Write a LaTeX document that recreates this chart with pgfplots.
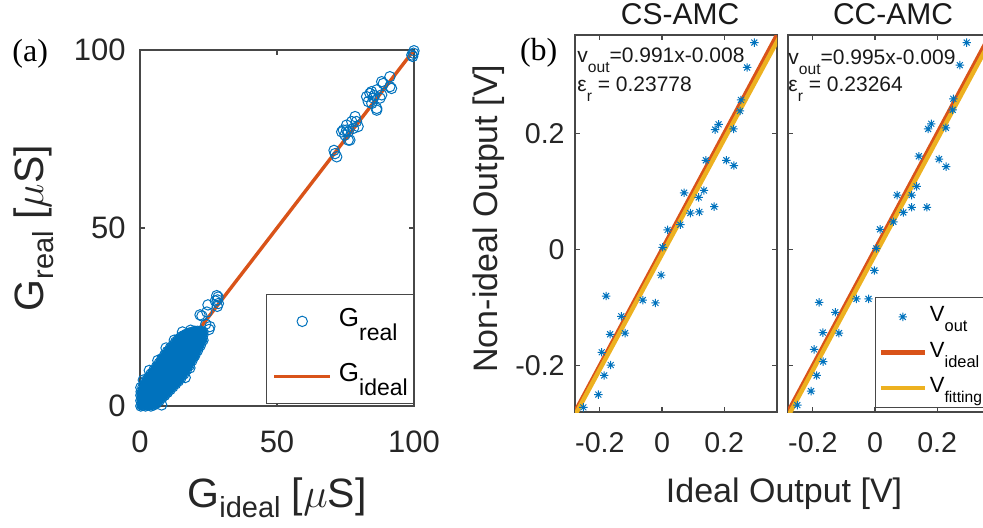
\documentclass[border=0pt]{standalone}
\usepackage{pgfplots}
\usepackage{pgfplotstable}
\pgfplotsset{compat=1.18}
\usepackage{fontspec}
\setmainfont{Liberation Sans}
\newfontfamily\timesfont{Liberation Serif}
\definecolor{mblue}{rgb}{0,0.447,0.741}
\definecolor{morange}{rgb}{0.85,0.325,0.098}
\definecolor{myellow}{rgb}{0.929,0.694,0.125}
\newcommand{\fs}[1]{\fontsize{#1}{#1}\selectfont}
\newcommand{\sbx}[3]{\raisebox{-#1}{\fs{#2}#3}}
\pgfdeclareplotmark{mstar}{%
  \pgfpathmoveto{\pgfqpoint{-\pgfplotmarksize}{0pt}}%
  \pgfpathlineto{\pgfqpoint{\pgfplotmarksize}{0pt}}%
  \pgfpathmoveto{\pgfqpoint{0pt}{-\pgfplotmarksize}}%
  \pgfpathlineto{\pgfqpoint{0pt}{\pgfplotmarksize}}%
  \pgfpathmoveto{\pgfqpoint{-0.7071\pgfplotmarksize}{-0.7071\pgfplotmarksize}}%
  \pgfpathlineto{\pgfqpoint{0.7071\pgfplotmarksize}{0.7071\pgfplotmarksize}}%
  \pgfpathmoveto{\pgfqpoint{-0.7071\pgfplotmarksize}{0.7071\pgfplotmarksize}}%
  \pgfpathlineto{\pgfqpoint{0.7071\pgfplotmarksize}{-0.7071\pgfplotmarksize}}%
  \pgfusepathqstroke}
\pgfplotsset{
  mybase/.style={
    scale only axis,
    axis line style={draw=black!72, line width=0.6pt},
    tick style={draw=black!72, line width=0.6pt},
    tick align=inside,
    major tick length=2.5pt,
    tick label style={text=black!85},
    label style={text=black!85},
  },
  legmarkA/.style={legend image code/.code={\path (0pt,0pt) (28pt,0pt); \draw[mark repeat=2,mark phase=2,##1] plot coordinates {(0pt,0pt) (14pt,0pt) (28pt,0pt)};}},
  leglineA/.style={legend image code/.code={\draw[##1] (0pt,0pt) -- (28pt,0pt);}},
  legmarkB/.style={legend image code/.code={\path (0pt,0pt) (22pt,0pt); \draw[mark repeat=2,mark phase=2,##1] plot coordinates {(0pt,0pt) (11pt,0pt) (22pt,0pt)};}},
  leglineB/.style={legend image code/.code={\draw[##1] (0pt,0pt) -- (22pt,0pt);}},
}
% dense low-conductance cloud of panel (a)
\pgfplotstableread[row sep=\\]{x y\\
0.3 0\\ 0.3 1.5\\ 0.3 3\\ 0.4 4\\
1.1 0.2\\ 1.1 1\\ 1.1 2.4\\ 1.1 3.9\\ 1.1 5.4\\
2 0\\ 2 1.5\\ 2 3\\ 2 4.5\\ 2 6\\ 2 7\\
3 0.4\\ 3 1.9\\ 3 3.4\\ 3 4.9\\ 3 6.4\\ 3 7.9\\
4 0\\ 4 1.5\\ 4 3\\ 4 4.5\\ 4 6\\ 4 7.5\\ 4 9\\
5 0.3\\ 5 1.8\\ 5 3.3\\ 5 4.8\\ 5 6.3\\ 5 7.8\\ 5 9.3\\ 5 10\\
6 0.8\\ 6 2.3\\ 6 3.8\\ 6 5.3\\ 6 6.8\\ 6 8.3\\ 6 9.8\\ 6 11\\
7 1.5\\ 7 3\\ 7 4.5\\ 7 6\\ 7 7.5\\ 7 9\\ 7 10.5\\ 7 12\\
8 2.3\\ 8 3.8\\ 8 5.3\\ 8 6.8\\ 8 8.3\\ 8 9.8\\ 8 11.3\\ 8 12.8\\ 8 13.3\\
9 3\\ 9 4.5\\ 9 6\\ 9 7.5\\ 9 9\\ 9 10.5\\ 9 12\\ 9 13.5\\ 9 14.3\\
10 3.8\\ 10 5.3\\ 10 6.8\\ 10 8.3\\ 10 9.8\\ 10 11.3\\ 10 12.8\\ 10 14.3\\ 10 15.3\\
11 4.6\\ 11 6.1\\ 11 7.6\\ 11 9.1\\ 11 10.6\\ 11 12.1\\ 11 13.6\\ 11 15.1\\ 11 16.2\\
12 5.4\\ 12 6.9\\ 12 8.4\\ 12 9.9\\ 12 11.4\\ 12 12.9\\ 12 14.4\\ 12 15.9\\ 12 17\\
13 6.2\\ 13 7.7\\ 13 9.2\\ 13 10.7\\ 13 12.2\\ 13 13.7\\ 13 15.2\\ 13 16.7\\ 13 18\\
14 7\\ 14 8.5\\ 14 10\\ 14 11.5\\ 14 13\\ 14 14.5\\ 14 16\\ 14 17.5\\ 14 18.8\\
15 8\\ 15 9.5\\ 15 11\\ 15 12.5\\ 15 14\\ 15 15.5\\ 15 17\\ 15 18.5\\ 15 19.4\\
16 9\\ 16 10.5\\ 16 12\\ 16 13.5\\ 16 15\\ 16 16.5\\ 16 18\\ 16 19.5\\ 16 19.8\\
17 10.2\\ 17 11.7\\ 17 13.2\\ 17 14.7\\ 17 16.2\\ 17 17.7\\ 17 19.2\\ 17 20.2\\
18 11.4\\ 18 12.9\\ 18 14.4\\ 18 15.9\\ 18 17.4\\ 18 18.9\\ 18 20.5\\
19 12.8\\ 19 14.3\\ 19 15.8\\ 19 17.3\\ 19 18.8\\ 19 20.3\\ 19 20.7\\
20 14.2\\ 20 15.7\\ 20 17.2\\ 20 18.7\\ 20 20.2\\ 20 21\\
21 15.6\\ 21 17.1\\ 21 18.6\\ 21 20.1\\ 21 21\\
22 17\\ 22 18.5\\ 22 20\\ 22 21\\
23 18.5\\ 23 20\\ 23 20.8\\
}\blobtab
% isolated devices of panel (a)
\pgfplotstableread[row sep=\\]{x y\\
21.9 25.6\\ 22.6 25.3\\ 24.4 26.4\\ 24.8 28.4\\ 27.5 29.5\\ 28 31\\ 28.5 30.6\\ 28.3 29.8\\
28.6 28.8\\ 28.2 28\\ 25.5 22.3\\ 25.2 21.5\\ 24 23\\ 18.2 10.7\\ 19.5 13.9\\ 16.5 8\\
7.9 0.3\\ 2.4 -1.1\\ 1 -0.8\\ 0.3 5.2\\ 1.2 7.3\\ 3.4 10\\ 6.5 12.8\\ 9.5 16.3\\ 12.5 18.5\\
15.5 20.8\\ 18.5 21.3\\
70.8 71.8\\ 71.2 70.9\\ 71.8 70\\
73.6 77\\ 74.2 77.5\\ 74.8 76.1\\ 75.4 78.9\\ 75.4 77.5\\ 76 77\\ 76 74.7\\ 76.6 74.7\\
77.3 79.9\\ 77.9 78\\ 78.5 81.3\\ 79 79.9\\ 79.6 78.5\\
82.7 86.9\\ 83.3 85.5\\ 83.9 87.8\\ 84.5 88.3\\ 84.6 85\\ 85.2 86.5\\ 85.5 87.2\\ 86.4 88.8\\
86.4 83.6\\ 86.4 83.1\\ 87.6 86.5\\ 88.2 87.4\\ 88.2 91.1\\ 88.8 90.6\\ 91.2 89.7\\ 91.8 89.2\\
91.2 92.5\\
99.2 98.6\\ 99.5 98.2\\ 99.8 99.1\\ 100 99.8\\
}\isotab
\begin{document}
\begin{tikzpicture}
\useasboundingbox (0,0) rectangle (491.5pt,263.5pt);
% ---------------- panel (a)
\begin{axis}[mybase, at={(70pt,60.5pt)}, anchor=south west, width=137pt, height=178pt,
  xmin=0, xmax=100, ymin=0, ymax=100,
  xtick={0,50,100}, ytick={0,50,100},
  xticklabels={0,50,100}, yticklabels={0,50,100},
  xticklabel style={font=\fs{15.5}, anchor=base, inner sep=0pt, yshift=-23pt},
  yticklabel style={font=\fs{15.5}, anchor=east, inner sep=0pt, xshift=-7pt},
  xlabel={G\sbx{5pt}{14.5}{ideal} [$\mu$S]},
  ylabel={G\sbx{5pt}{14.5}{real} [$\mu$S]},
  xlabel style={font=\fs{20.5}, at={(axis description cs:0.5,-0.284)}, anchor=base, inner sep=0pt},
  ylabel style={font=\fs{20.5}, at={(axis description cs:-0.354,0.5)}, anchor=base, inner sep=0pt},
  legend cell align=left,
  legend style={at={(0.46,0.315)}, anchor=north west, draw=black!72, line width=0.5pt,
    font=\fs{13}, inner xsep=3pt, inner ysep=6.7pt, row sep=13.9pt, column sep=3.5pt,
    nodes={inner sep=0pt, text height=9.5pt, text depth=4.1pt}},
]
\addplot[only marks, mark=*, mark size=2.0pt, color=mblue, forget plot] table {\blobtab};
\addplot[only marks, mark=o, mark size=2.6pt, color=mblue, mark options={line width=0.5pt}, legmarkA] table {\blobtab};
\addlegendentry{G\sbx{7pt}{11.5}{real}}
\addplot[only marks, mark=o, mark size=2.6pt, color=mblue, mark options={line width=0.5pt}, forget plot] table {\isotab};
\addplot[color=morange, line width=1.7pt, leglineA]
coordinates {(0,0) (100,100)};
\addlegendentry{G\sbx{7pt}{11.5}{ideal}}
\end{axis}
% ---------------- panel (b) CS-AMC
\begin{axis}[mybase, at={(287.5pt,57.5pt)}, anchor=south west, width=101pt, height=188.5pt,
  xmin=-0.28, xmax=0.37, ymin=-0.28, ymax=0.37,
  xtick={-0.2,0,0.2}, ytick={-0.2,0,0.2},
  xticklabels={-0.2,0,0.2}, yticklabels={-0.2,0,0.2},
  xticklabel style={font=\fs{14.3}, anchor=base, inner sep=0pt, yshift=-20pt},
  yticklabel style={font=\fs{14.3}, anchor=east, inner sep=0pt, xshift=-5pt},
  title={CS-AMC}, title style={font=\fs{15}, text=black!90, at={(axis description cs:0.52,0.995)}, anchor=base, inner sep=0pt},
  xlabel={Ideal Output [V]},
  xlabel style={font=\fs{17}, at={(axis description cs:1.035,-0.241)}, anchor=base, inner sep=0pt},
  ylabel={Non-ideal Output [V]},
  ylabel style={font=\fs{17}, at={(axis description cs:-0.386,0.513)}, anchor=base, inner sep=0pt},
]
\addplot[only marks, mark=mstar, mark size=2.1pt, color=mblue, mark options={line width=0.5pt}]
coordinates {
(0.297,0.357)(0.274,0.314)(0.254,0.258)(0.251,0.239)(0.182,0.216)(0.171,0.207)
(0.230,0.208)(0.141,0.154)(0.207,0.154)(0.231,0.145)(0.071,0.098)(0.135,0.102)
(0.118,0.090)(0.091,0.063)(0.120,0.065)(0.168,0.074)(0.059,0.043)(0.018,0.034)
(0.002,0.004)(-0.003,-0.044)(-0.062,-0.087)(-0.021,-0.092)(-0.180,-0.080)
(-0.131,-0.115)(-0.167,-0.146)(-0.119,-0.144)(-0.194,-0.177)(-0.165,-0.199)
(-0.186,-0.217)(-0.205,-0.250)(-0.253,-0.272)
};
\addplot[color=morange, line width=2.2pt] coordinates {(-0.4,-0.4) (0.5,0.5)};
\addplot[color=myellow, line width=2.2pt] coordinates {(-0.4,-0.4044) (0.5,0.4875)};
\node[anchor=base west, inner sep=0pt, font=\fs{10.5}, text=black!90] at (axis description cs:0.01,0.928) {v\sbx{5pt}{7.8}{out}=0.991x-0.008};
\node[anchor=base west, inner sep=0pt, font=\fs{10.5}, text=black!90] at (axis description cs:0.01,0.849) {ε\sbx{5pt}{7.8}{r} = 0.23778};
\end{axis}
% ---------------- panel (b) CC-AMC
\begin{axis}[mybase, at={(394pt,57.5pt)}, anchor=south west, width=101pt, height=188.5pt,
  xmin=-0.28, xmax=0.37, ymin=-0.28, ymax=0.37,
  xtick={-0.2,0,0.2}, ytick={-0.2,0,0.2},
  xticklabels={-0.2,0,0.2}, yticklabels={},
  xticklabel style={font=\fs{14.3}, anchor=base, inner sep=0pt, yshift=-20pt},
  title={CC-AMC}, title style={font=\fs{15}, text=black!90, at={(axis description cs:0.52,0.995)}, anchor=base, inner sep=0pt},
  legend cell align=left,
  legend style={at={(0.431,0.305)}, anchor=north west, draw=black!72, line width=0.5pt,
    font=\fs{11}, inner xsep=1.5pt, inner ysep=4pt, row sep=6.35pt, column sep=1.5pt,
    nodes={inner sep=0pt, text height=8pt, text depth=3.4pt}},
]
\addplot[only marks, mark=mstar, mark size=2.1pt, color=mblue, mark options={line width=0.5pt}, legmarkB]
coordinates {
(0.295,0.357)(0.273,0.318)(0.252,0.260)(0.250,0.241)(0.181,0.217)(0.171,0.208)
(0.228,0.210)(0.141,0.161)(0.206,0.156)(0.229,0.143)(0.071,0.094)(0.134,0.109)
(0.118,0.094)(0.091,0.064)(0.118,0.073)(0.167,0.073)(0.059,0.048)(0.016,0.035)
(0.004,0.002)(-0.002,-0.036)(-0.060,-0.085)(-0.021,-0.085)(-0.180,-0.091)
(-0.128,-0.108)(-0.168,-0.143)(-0.116,-0.144)(-0.196,-0.172)(-0.167,-0.193)
(-0.188,-0.217)(-0.206,-0.244)(-0.250,-0.268)
};
\addlegendentry{V\sbx{5pt}{8.2}{out}}
\addplot[color=morange, line width=2.2pt, leglineB]
coordinates {(-0.4,-0.4) (0.5,0.5)};
\addlegendentry{V\sbx{5pt}{8.2}{ideal}}
\addplot[color=myellow, line width=2.2pt, leglineB]
coordinates {(-0.4,-0.407) (0.5,0.4885)};
\addlegendentry{V\sbx{5pt}{7.8}{fitting}\hspace{4pt}}
\node[anchor=base west, inner sep=0pt, font=\fs{10.5}, text=black!90] at (axis description cs:0.0,0.922) {v\sbx{5pt}{7.8}{out}=0.995x-0.009};
\node[anchor=base west, inner sep=0pt, font=\fs{10.5}, text=black!90] at (axis description cs:0.0,0.849) {ε\sbx{5pt}{7.8}{r} = 0.23264};
\end{axis}
% panel letters
\node[anchor=base west, inner sep=0pt, font=\timesfont\fs{16}] at (6pt,233pt) {(a)};
\node[anchor=base west, inner sep=0pt, font=\timesfont\fs{16}] at (259.8pt,233.5pt) {(b)};
\end{tikzpicture}
\end{document}
